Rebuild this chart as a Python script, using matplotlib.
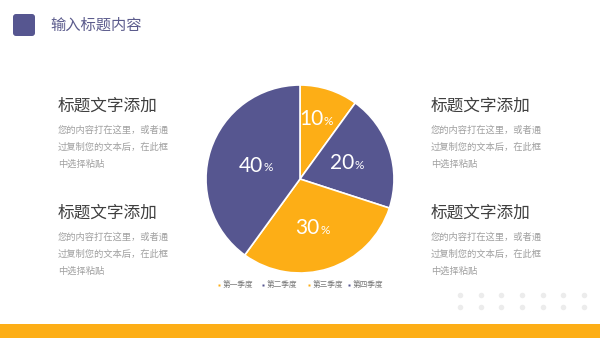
import numpy as np
import matplotlib.pyplot as plt
from matplotlib.patches import FancyBboxPatch, Rectangle

plt.rcParams['font.family'] = ['Noto Sans CJK SC', 'DejaVu Sans']

# Data
quarters = ['第一季度', '第二季度', '第三季度', '第四季度']
shares = [10, 20, 30, 40]
colors = ['#FDAE16', '#565690', '#FDAE16', '#565690']

title = '输入标题内容'
block_title = '标题文字添加'
block_lines = ['您的内容打在这里，或者通', '过复制您的文本后，在此框', '中选择粘贴']

W, H = 600, 338
fig = plt.figure(figsize=(6, 3.38), dpi=100)
bg = fig.add_axes([0, 0, 1, 1])
bg.set_xlim(0, W)
bg.set_ylim(H, 0)
bg.axis('off')

# header
bg.add_patch(FancyBboxPatch((13, 14), 22, 22, boxstyle='round,pad=0,rounding_size=3',
                            fc='#565690', ec='none'))
bg.text(50, 25, title, fontsize=11, color='#5b5b8c', va='center', ha='left')

# bottom bar
bg.add_patch(Rectangle((0, 324), W, 14, fc='#FDAE16', ec='none'))

# decorative dots
for yy in [295, 307]:
    for xx in np.linspace(460, 584, 7):
        bg.plot(xx, yy, 'o', ms=4, color='#ececec', mec='none')

# text blocks
for x0 in [58, 431]:
    for y0 in [106, 213]:
        bg.text(x0, y0, block_title, fontsize=12, color='#3f3f3f', va='center', ha='left')
        for i, line in enumerate(block_lines):
            bg.text(x0, y0 + 24 + i * 17, line, fontsize=6.7, color='#a0a0a0',
                    va='center', ha='left')

# pie
r = 94
cx, cy = 300, 179
ax = fig.add_axes([(cx - r) / W, (H - cy - r) / H, 2 * r / W, 2 * r / H])
wedges, _ = ax.pie(shares, colors=colors, startangle=90, counterclock=False,
                   radius=1, wedgeprops=dict(edgecolor='white', linewidth=1.2))
ax.set_xlim(-1, 1)
ax.set_ylim(-1, 1)
ax.set_aspect('equal')
ax.axis('off')

label_r = [0.67, 0.56, 0.55, 0.46]
for w, v, lr in zip(wedges, shares, label_r):
    ang = np.deg2rad((w.theta1 + w.theta2) / 2)
    x, y = lr * np.cos(ang) + 0.04, lr * np.sin(ang)
    ax.text(x, y, str(v), fontsize=15, color='white', ha='right', va='center',
            family=['Lato', 'DejaVu Sans'])
    ax.text(x + 0.005, y - 0.025, '%', fontsize=8.5, color='white', ha='left', va='center',
            family=['Lato', 'DejaVu Sans'])

# legend
lx = [222, 266, 312, 352]
for xx, name, c in zip(lx, quarters, colors):
    bg.plot(xx - 3, 285, 's', ms=2, color=c, mec='none')
    bg.text(xx + 1, 285, name, fontsize=5.5, color='#777777', va='center', ha='left')

fig.savefig('out.png', dpi=100)
